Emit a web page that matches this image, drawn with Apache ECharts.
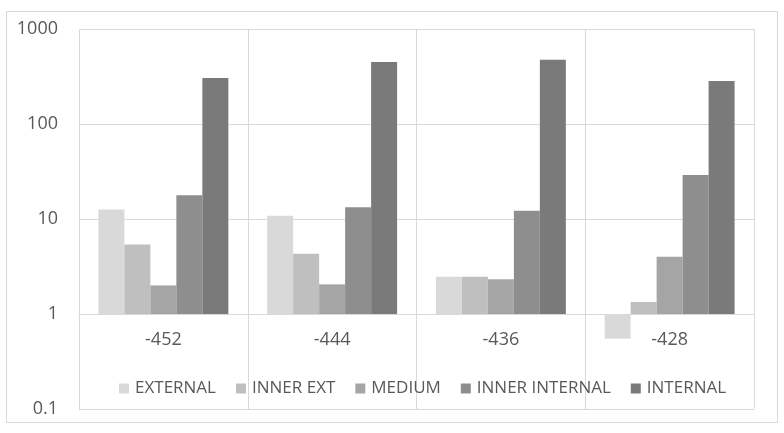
<!DOCTYPE html>
<html>
<head>
<meta charset="utf-8">
<script src="https://cdn.jsdelivr.net/npm/echarts@6/dist/echarts.min.js"></script>
<style>
  html, body { margin: 0; padding: 0; background: #fff; }
  #main { width: 784px; height: 433px; }
</style>
</head>
<body>
<div id="main"></div>
<script>
// 深度类目
var categories = ['-452', '-444', '-436', '-428'];
// 各层数值（对数轴）
var external = [12.6, 10.8, 2.47, 0.55];
var innerExt = [5.4, 4.3, 2.47, 1.34];
var medium = [2.0, 2.05, 2.32, 4.0];
var innerInternal = [17.8, 13.3, 12.2, 29];
var internal = [305, 450, 475, 284];
var yTicks = ['0.1', '1', '10', '100', '1000'];

var seriesNames = ['EXTERNAL', 'INNER EXT', 'MEDIUM', 'INNER INTERNAL', 'INTERNAL'];
var seriesData = [external, innerExt, medium, innerInternal, internal];
var colors = ['#d9d9d9', '#bfbfbf', '#a5a5a5', '#8e8e8e', '#7a7a7a'];
var font = '"Open Sans", sans-serif';

var myChart = echarts.init(document.getElementById('main'));
myChart.setOption({
  animation: false,
  color: colors,
  graphic: [{
    type: 'rect',
    shape: { x: 6.5, y: 11.5, width: 771, height: 411 },
    style: { fill: 'none', stroke: '#d9d9d9', lineWidth: 1 },
    silent: true
  }],
  grid: { left: 79, right: 30, top: 29, bottom: 24, containLabel: false },
  legend: {
    bottom: 31,
    left: 114,
    icon: 'rect',
    itemWidth: 10,
    itemHeight: 10,
    itemGap: 20,
    textStyle: { color: '#595959', fontSize: 17, fontFamily: font, padding: [0, 0, 0, 1] }
  },
  xAxis: {
    type: 'category',
    data: categories,
    offset: -95, // 轴线放在 1 的位置
    axisLine: { onZero: false, lineStyle: { color: '#d9d9d9' } },
    axisTick: { show: false },
    axisLabel: { color: '#595959', fontSize: 18, fontFamily: font, margin: 17 },
    splitLine: { show: true, lineStyle: { color: '#d9d9d9' } }
  },
  yAxis: {
    type: 'value',
    min: -1,
    max: 3,
    interval: 1, // 每个数量级一格
    axisLine: { show: false },
    axisTick: { show: false },
    axisLabel: {
      color: '#595959', fontSize: 18, fontFamily: font, margin: 21,
      formatter: function (v) { return yTicks[Math.round(v) + 1]; }
    },
    splitLine: { lineStyle: { color: '#d9d9d9' } }
  },
  series: seriesNames.map(function (name, i) {
    return {
      name: name,
      type: 'bar',
      barGap: '0%',
      barCategoryGap: '23%',
      data: seriesData[i].map(function (v) { return Math.log10(v); })
    };
  })
});
</script>
</body>
</html>
